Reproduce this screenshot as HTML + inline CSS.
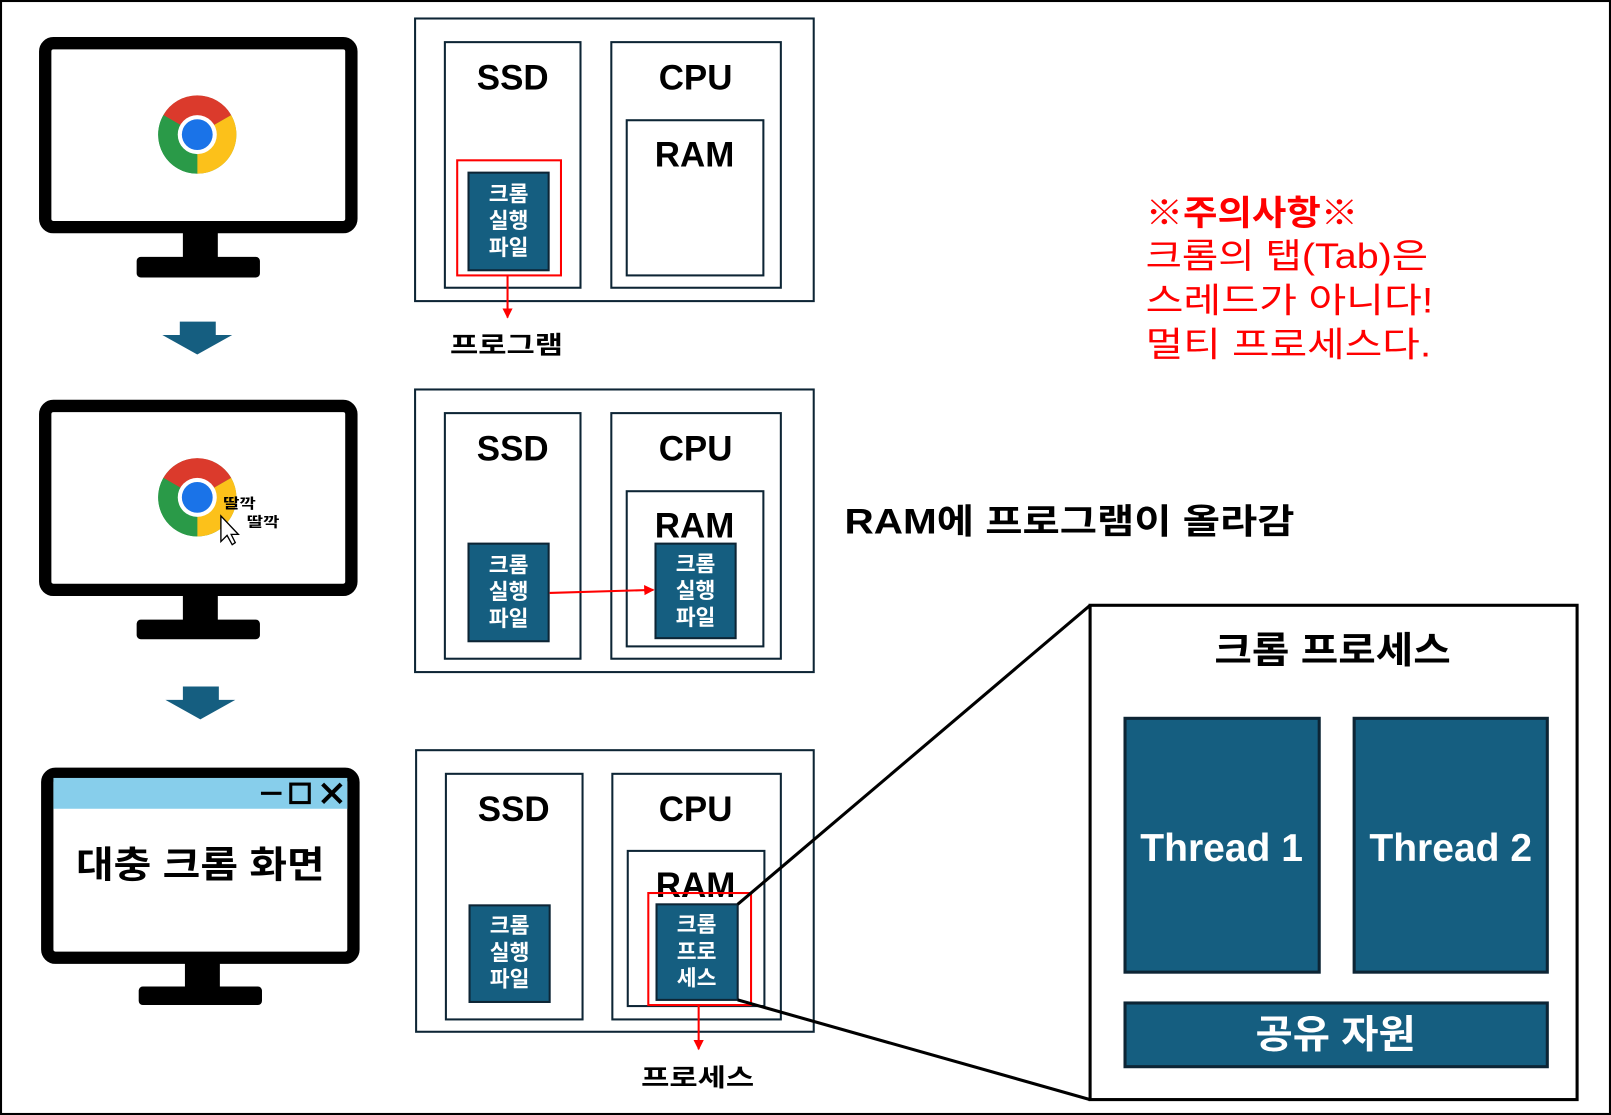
<!DOCTYPE html>
<html><head><meta charset="utf-8"><style>
html,body{margin:0;padding:0;background:#fff;}
svg{display:block;}
text{font-family:"Liberation Sans","Noto Sans CJK KR",sans-serif;}
</style></head><body>
<svg width="1611" height="1115" viewBox="0 0 1568 1085" preserveAspectRatio="none" xmlns="http://www.w3.org/2000/svg">
<defs>
<marker id="ar" viewBox="0 0 10 10" refX="9" refY="5" markerWidth="5" markerHeight="5" orient="auto"><path d="M0,0L10,5L0,10z" fill="#f00"/></marker>
<g id="chrome">
<circle r="38" fill="#2a9a48"/>
<path d="M0,0 L-33,-19 A38,38 0 0 1 33,-19 Z" fill="#db3a2c"/>
<path d="M0,0 L33,-19 A38,38 0 0 1 0,38 Z" fill="#fcc11a"/>
<path d="M0,0 L0,38 A38,38 0 0 1 -33,-19 Z" fill="#2a9a48"/>
<circle r="19" fill="#fff"/><circle r="15" fill="#1a73e8"/>
</g>
</defs>
<rect x="1" y="1" width="1566" height="1083" fill="#fff" stroke="#000" stroke-width="2"/>
<g fill="none" stroke="#000" stroke-width="12">
<rect x="44" y="42" width="298" height="179" rx="8"/>
<rect x="44" y="395" width="298" height="179" rx="8"/>
<rect x="46" y="753" width="298" height="179" rx="8"/>
</g>
<g fill="#000">
<rect x="178" y="225" width="34" height="30"/><rect x="133" y="250" width="120" height="20" rx="4"/>
<rect x="178" y="578" width="34" height="30"/><rect x="133" y="603" width="120" height="19" rx="4"/>
<rect x="180" y="936" width="34" height="28"/><rect x="135" y="960" width="120" height="18" rx="4"/>
</g>
<use href="#chrome" x="192" y="131"/>
<use href="#chrome" x="192" y="484"/>
<text x="217" y="495" font-size="14" font-weight="bold" textLength="32" lengthAdjust="spacingAndGlyphs">딸깍</text>
<text x="240" y="513" font-size="14" font-weight="bold" textLength="32" lengthAdjust="spacingAndGlyphs">딸깍</text>
<path d="M215,502 L215,527 L221,521 L226,530 L229,528 L225,520 L232,520 Z" fill="#fff" stroke="#000" stroke-width="1.3"/>
<rect x="52" y="757" width="286" height="30" fill="#87ceeb"/>
<line x1="254" y1="772" x2="274" y2="772" stroke="#000" stroke-width="3"/>
<rect x="283" y="763" width="18" height="18" fill="none" stroke="#000" stroke-width="3"/>
<path d="M314,763L332,781M332,763L314,781" stroke="#000" stroke-width="4"/>
<text x="74" y="854" font-size="36" font-weight="bold" textLength="242" lengthAdjust="spacingAndGlyphs">대충 크롬 화면</text>
<g fill="#155e80">
<path d="M175,313h35v13h16l-34,19l-34,-19h17z"/>
<path d="M178,668h35v13h16l-34,19l-34,-19h17z"/>
</g>
<g fill="none" stroke="#0d2535" stroke-width="2">
<rect x="404" y="18" width="388" height="275"/><rect x="433" y="41" width="132" height="239"/><rect x="595" y="41" width="165" height="239"/><rect x="610" y="117" width="133" height="151"/>
<rect x="404" y="379" width="388" height="275"/><rect x="433" y="402" width="132" height="239"/><rect x="595" y="402" width="165" height="239"/><rect x="610" y="478" width="133" height="151"/>
<rect x="405" y="730" width="387" height="274"/><rect x="434" y="753" width="133" height="239"/><rect x="596" y="753" width="164" height="239"/><rect x="611" y="828" width="133" height="151"/>
</g>
<g font-size="34" font-weight="bold" text-anchor="middle">
<text x="499" y="87">SSD</text><text x="677" y="87">CPU</text><text x="676" y="162">RAM</text>
<text x="499" y="448">SSD</text><text x="677" y="448">CPU</text><text x="676" y="523">RAM</text>
<text x="500" y="799">SSD</text><text x="677" y="799">CPU</text><text x="677" y="873">RAM</text>
</g>
<g fill="#155e80" stroke="#0d2535" stroke-width="2">
<rect x="456" y="168" width="78" height="95"/><rect x="456" y="529" width="78" height="95"/><rect x="638" y="529" width="78" height="92"/>
<rect x="457" y="881" width="78" height="94"/><rect x="639" y="880" width="79" height="93"/>
</g>
<g fill="#fff" font-size="21" font-weight="bold" text-anchor="middle">
<text x="495" y="196">크롬</text><text x="495" y="222">실행</text><text x="495" y="248">파일</text>
<text x="495" y="557">크롬</text><text x="495" y="583">실행</text><text x="495" y="609">파일</text>
<text x="677" y="556">크롬</text><text x="677" y="582">실행</text><text x="677" y="608">파일</text>
<text x="496" y="908">크롬</text><text x="496" y="934">실행</text><text x="496" y="960">파일</text>
<text x="678" y="907">크롬</text><text x="678" y="933">프로</text><text x="678" y="959">세스</text>
</g>
<g fill="none" stroke="#f00" stroke-width="2">
<rect x="445" y="156" width="101" height="112"/>
<rect x="631" y="869" width="100" height="109"/>
<line x1="494" y1="268" x2="494" y2="309" marker-end="url(#ar)"/>
<line x1="535" y1="577" x2="636" y2="574" marker-end="url(#ar)"/>
<line x1="680" y1="978" x2="680" y2="1021" marker-end="url(#ar)"/>
</g>
<text x="438" y="344" font-size="24" font-weight="bold" textLength="110" lengthAdjust="spacingAndGlyphs">프로그램</text>
<text x="624" y="1057" font-size="24" font-weight="bold" textLength="110" lengthAdjust="spacingAndGlyphs">프로세스</text>
<text x="822" y="519" font-size="34" font-weight="bold" textLength="438" lengthAdjust="spacingAndGlyphs">RAM에 프로그램이 올라감</text>
<g fill="#f00" font-size="34">
<text x="1115" y="219" font-weight="bold" textLength="207" lengthAdjust="spacingAndGlyphs">※주의사항※</text>
<text x="1115" y="261" textLength="275" lengthAdjust="spacingAndGlyphs">크롬의 탭(Tab)은</text>
<text x="1115" y="304" textLength="280" lengthAdjust="spacingAndGlyphs">스레드가 아니다!</text>
<text x="1115" y="347" textLength="278" lengthAdjust="spacingAndGlyphs">멀티 프로세스다.</text>
</g>
<g stroke="#000" stroke-width="3">
<line x1="718" y1="880" x2="1061" y2="589"/>
<line x1="718" y1="973" x2="1061" y2="1070"/>
</g>
<rect x="1061" y="589" width="474" height="481" fill="#fff" stroke="#000" stroke-width="3"/>
<text x="1182" y="645" font-size="36" font-weight="bold" textLength="230" lengthAdjust="spacingAndGlyphs">크롬 프로세스</text>
<g fill="#155e80" stroke="#0d2535" stroke-width="3">
<rect x="1095" y="699" width="189" height="247"/><rect x="1318" y="699" width="188" height="247"/><rect x="1095" y="976" width="411" height="62"/>
</g>
<g fill="#fff" font-size="38" font-weight="bold" text-anchor="middle">
<text x="1189" y="838">Thread 1</text><text x="1412" y="838">Thread 2</text>
</g>
<text x="1222" y="1020" fill="#fff" font-size="38" font-weight="bold" textLength="156" lengthAdjust="spacingAndGlyphs">공유 자원</text>
</svg>
</body></html>
